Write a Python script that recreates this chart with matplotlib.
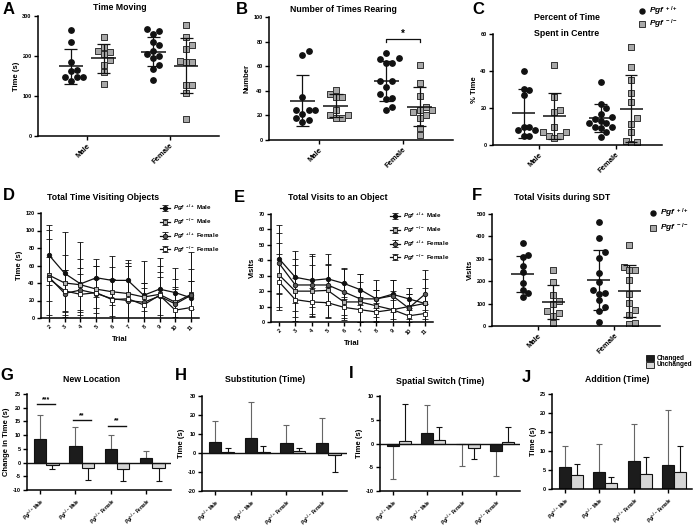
import numpy as np
import matplotlib.pyplot as plt

plt.rcParams['font.family'] = ['Liberation Sans', 'DejaVu Sans']
plt.rcParams['font.weight'] = 'bold'
plt.rcParams['axes.labelweight'] = 'bold'
plt.rcParams['mathtext.fontset'] = 'custom'
plt.rcParams['mathtext.it'] = 'Liberation Sans:italic:bold'
plt.rcParams['mathtext.rm'] = 'Liberation Sans:bold'
plt.rcParams['mathtext.bf'] = 'Liberation Sans:bold'
plt.rcParams['axes.unicode_minus'] = False

WT = r'$Pgf^{\ +/+}$'
KO = r'$Pgf^{\ -/-}$'

# ---- A: time moving (s)
a_wt_m = [266, 234, 185, 164, 162, 147, 147, 147, 137]
a_ko_m = [247, 222, 212, 210, 205, 190, 177, 160, 130]
a_wt_f = [267, 262, 255, 235, 228, 212, 205, 200, 195, 178, 168, 140]
a_ko_f = [278, 248, 228, 217, 188, 185, 185, 128, 127, 107, 42]
a_mean = [174, 194, 211, 176]
a_sd = [43, 36, 37, 69]

# ---- B: number of times rearing
b_wt_m = [72, 69, 35, 24, 24, 24, 21, 18, 16, 15]
b_ko_m = [41, 37, 35, 35, 24, 20, 20, 18, 18]
b_wt_f = [71, 67, 66, 63, 63, 48, 48, 43, 37, 34, 33, 27, 24]
b_ko_f = [61, 46, 36, 27, 24, 24, 23, 20, 18, 10, 4]
b_mean = [32, 28, 48, 27]
b_sd = [21, 9, 16, 16]

# ---- C: percent of time in centre
c_wt_m = [40, 30.5, 29.5, 27, 10, 10, 8, 8, 5, 5]
c_ko_m = [43, 26, 19, 18, 10, 7, 7, 5, 5, 4]
c_wt_f = [34, 22, 20, 17, 15, 14, 13, 12, 12, 10, 10, 9, 7, 4.5]
c_ko_f = [53, 42, 35, 28, 23, 14.5, 11.5, 7, 2, 1.5, 0.5]
c_mean = [17.2, 15.6, 14.5, 19.6]
c_sd = [13.3, 12.4, 7.5, 18]

# ---- D / E: trials
trials = [2, 3, 4, 5, 6, 7, 8, 9, 10, 11]
d_wt_m = [72, 51, 39, 46, 43, 43, 26, 33, 29, 23]
d_ko_m = [49, 40, 38, 33, 30, 28, 24, 27, 18, 27]
d_wt_f = [47, 28, 32, 28, 22, 20, 18, 25, 16, 26]
d_ko_f = [45, 31, 27, 29, 21, 22, 15, 26, 9, 12]
d_wt_m_sd = [34, 47, 48, 22, 28, 23, 39, 36, 28, 53]
d_ko_m_sd = [52, 32, 29, 27, 28, 35, 16, 33, 27, 29]
d_wt_f_sd = [43, 27, 25, 17, 23, 40, 22, 22, 20, 16]
d_ko_f_sd = [25, 24, 23, 31, 24, 38, 19, 27, 24, 30]

e_wt_m = [41, 29, 27, 28, 25, 21, 15, 18, 15, 12]
e_ko_m = [30.5, 20, 20, 20.5, 13, 13, 10.5, 8, 10, 12]
e_wt_f = [38, 24, 24, 24, 19.5, 15, 15, 17, 9, 18]
e_ko_f = [26, 14.5, 13, 12.5, 9.5, 8, 6.5, 8, 4, 5.5]
e_wt_m_sd = [22, 17, 17, 16, 10, 10, 12, 9.5, 7, 22]
e_ko_m_sd = [21, 17, 17, 17, 12, 13, 10.5, 12, 8, 10]
e_wt_f_sd = [20, 17, 19, 13, 15, 16, 6, 10.5, 9, 10]
e_ko_f_sd = [18, 14, 9, 10, 7, 8, 6, 6, 5, 6]

# ---- F: total visits during SDT
f_wt_m = [370, 315, 310, 268, 240, 190, 160, 148, 128]
f_ko_m = [248, 197, 140, 110, 97, 65, 60, 45, 13]
f_wt_f = [465, 393, 330, 305, 237, 195, 160, 148, 143, 115, 85, 65, 20]
f_ko_f = [362, 262, 252, 248, 207, 142, 102, 73, 50, 15, 10]
f_mean = [232, 107, 205, 157]
f_sd = [80, 75, 135, 116]

# ---- G-J: changed / unchanged
bar_groups = [r'$Pgf^{+/+}$ Male', r'$Pgf^{-/-}$ Male',
              r'$Pgf^{+/+}$ Female', r'$Pgf^{-/-}$ Female']
g_chg = [8.5, 6.0, 5.0, 1.8]
g_chg_sd = [8.8, 7.1, 5.2, 2.6]
g_unc = [-0.8, -2.0, -2.2, -1.8]
g_unc_sd = [1.7, 4.5, 4.6, 5.0]
h_chg = [6.0, 8.0, 5.5, 5.5]
h_chg_sd = [10.7, 19.0, 9.3, 12.8]
h_unc = [0.3, 0.5, 1.0, -1.0]
h_unc_sd = [2.5, 3.3, 1.8, 9.0]
i_chg = [-0.5, 2.3, -0.1, -1.6]
i_chg_sd = [7.0, 5.8, 4.6, 5.3]
i_unc = [0.6, 0.7, -0.9, 0.3]
i_unc_sd = [7.8, 2.7, 2.4, 3.1]
j_chg = [5.9, 4.6, 7.5, 6.3]
j_chg_sd = [5.3, 7.2, 9.7, 14.5]
j_unc = [3.6, 1.6, 4.0, 4.4]
j_unc_sd = [3.0, 1.6, 4.3, 7.0]

W, H = 700, 529
fig = plt.figure(figsize=(7, 5.29), dpi=100)


def add_ax(l, t, r, b):
    ax = fig.add_axes([l / W, 1 - b / H, (r - l) / W, (b - t) / H])
    for s in ['top', 'right']:
        ax.spines[s].set_visible(False)
    for s in ['left', 'bottom']:
        ax.spines[s].set_linewidth(1.1)
    ax.tick_params(direction='out', length=3, width=1, labelsize=4, pad=1.5)
    return ax


def ftext(x, y, s, **kw):
    fig.text(x / W, 1 - y / H, s, **kw)


def swarm(vals, center, dy, dx):
    # spread overlapping points sideways, like a dot plot
    vals = np.asarray(vals, float)
    xs = np.zeros(len(vals))
    placed = []
    for i in np.argsort(vals):
        used = [o for v, o in placed if abs(v - vals[i]) < dy]
        for cand in [0, 1, -1, 2, -2, 3, -3, 4]:
            if cand not in used:
                break
        placed.append((vals[i], cand))
        xs[i] = center + cand * dx
    return xs


def scatter_panel(ax, groups, means, sds, ymax, ystep, ylabel):
    centers = [0.8, 1.2, 1.8, 2.2]
    dy = ymax * 0.055
    for k, (vals, c) in enumerate(zip(groups, centers)):
        xs = swarm(vals, c, dy, 0.075)
        if k % 2 == 0:
            ax.scatter(xs, vals, s=15, marker='o', color='#111111', zorder=2)
        else:
            ax.scatter(xs, vals, s=17, marker='s', facecolor='#a8a8a8',
                       edgecolor='#333333', linewidth=0.7, zorder=2)
        m, sd = means[k], sds[k]
        ax.hlines(m, c - 0.15, c + 0.15, color='#111111', lw=1.1, zorder=3)
        ax.vlines(c, m - sd, m + sd, color='#111111', lw=0.9, zorder=3)
        ax.hlines([m - sd, m + sd], c - 0.08, c + 0.08, color='#111111', lw=0.9, zorder=3)
    ax.set_xlim(0.4, 2.6)
    ax.set_ylim(0, ymax)
    ax.set_yticks(np.arange(0, ymax + 1, ystep))
    ax.set_xticks([1, 2])
    ax.set_xticklabels(['Male', 'Female'], rotation=45, ha='right',
                       rotation_mode='anchor', fontsize=5.5)
    ax.set_ylabel(ylabel, fontsize=5.5, labelpad=2)


def line_panel(ax, series, sds, ymax, ystep, ylabel):
    styles = [('o', '#111111'), ('s', '#b5b5b5'), ('o', '#5a5a5a'), ('s', 'white')]
    labels = [WT + ' Male', KO + ' Male', WT + ' Female', KO + ' Female']
    handles = []
    for vals, sd, (mk, fc), lab in zip(series, sds, styles, labels):
        h = ax.errorbar(trials, vals, yerr=sd, color='#111111', lw=0.9,
                        elinewidth=0.7, capsize=2, capthick=0.7, marker=mk,
                        markersize=3.2, markerfacecolor=fc,
                        markeredgecolor='#111111', markeredgewidth=0.6, label=lab)
        handles.append(h)
    ax.set_xlim(1.5, 11.5)
    ax.set_ylim(0, ymax)
    ax.set_yticks(np.arange(0, ymax + 1, ystep))
    ax.set_xticks(trials)
    ax.set_xticklabels([str(t) for t in trials], rotation=45, ha='right',
                       rotation_mode='anchor', fontsize=4)
    ax.set_xlabel('Trial', fontsize=5.5, labelpad=3)
    ax.set_ylabel(ylabel, fontsize=5.5, labelpad=2)
    return handles


def bar_panel(ax, chg, chg_sd, unc, unc_sd, ylo, yhi, ystep, ylabel):
    x = np.arange(4)
    w = 0.35
    for xs, vals, sd, col, ecol in [(x, chg, chg_sd, '#1c1c1c', '#666666'),
                                    (x + w, unc, unc_sd, '#d6d6d6', '#111111')]:
        vals = np.asarray(vals)
        sd = np.asarray(sd)
        lower = np.where(vals < 0, sd, 0)
        upper = np.where(vals >= 0, sd, 0)
        ax.bar(xs, vals, width=w, color=col, edgecolor='#111111', linewidth=0.8, zorder=2)
        ax.errorbar(xs, vals, yerr=[lower, upper], fmt='none', ecolor=ecol,
                    elinewidth=0.8, capsize=2.5, capthick=0.8, zorder=1)
    if ylo < 0:
        ax.axhline(0, color='#111111', lw=1, zorder=3)
    ax.set_xlim(-0.37, 3.7)
    ax.set_ylim(ylo, yhi)
    ax.set_yticks(np.arange(ylo, yhi + 0.1, ystep))
    ax.set_xticks(x)
    ax.set_xticklabels(bar_groups, rotation=45, ha='right',
                       rotation_mode='anchor', fontsize=3.3)
    ax.set_ylabel(ylabel, fontsize=5.5, labelpad=2)


# ---- row 1
ax = add_ax(38, 16, 219, 136)
scatter_panel(ax, [a_wt_m, a_ko_m, a_wt_f, a_ko_f], a_mean, a_sd, 300, 100, 'Time (s)')

ax = add_ax(269, 17, 453, 140)
scatter_panel(ax, [b_wt_m, b_ko_m, b_wt_f, b_ko_f], b_mean, b_sd, 100, 20, 'Number')
ax.plot([1.8, 1.8, 2.2, 2.2], [80, 82, 82, 80], color='#111111', lw=0.9)
ax.text(2.0, 82.5, '*', ha='center', va='bottom', fontsize=7)

ax = add_ax(493, 34, 662, 145)
scatter_panel(ax, [c_wt_m, c_ko_m, c_wt_f, c_ko_f], c_mean, c_sd, 60, 20, '% Time')

# ---- row 2
ax = add_ax(41, 213, 199, 318)
hd = line_panel(ax, [d_wt_m, d_ko_m, d_wt_f, d_ko_f],
                [d_wt_m_sd, d_ko_m_sd, d_wt_f_sd, d_ko_f_sd], 120, 20, 'Time (s)')
fig.legend(handles=hd, loc='upper left', bbox_to_anchor=(157 / W, 1 - 200 / H),
           frameon=False, fontsize=4.5, handlelength=1.6, handletextpad=0.4,
           labelspacing=0.55, borderpad=0)

ax = add_ax(271, 214, 433, 322)
he = line_panel(ax, [e_wt_m, e_ko_m, e_wt_f, e_ko_f],
                [e_wt_m_sd, e_ko_m_sd, e_wt_f_sd, e_ko_f_sd], 70, 10, 'Visits')
fig.legend(handles=he, loc='upper left', bbox_to_anchor=(387 / W, 1 - 208 / H),
           frameon=False, fontsize=4.5, handlelength=1.6, handletextpad=0.4,
           labelspacing=0.55, borderpad=0)

ax = add_ax(492, 214, 660, 326)
scatter_panel(ax, [f_wt_m, f_ko_m, f_wt_f, f_ko_f], f_mean, f_sd, 500, 100, 'Visits')

# genotype legends for C and F
for y0, y1 in [(11, 24), (213, 228)]:
    xm = 642 if y0 == 11 else 653
    fig.lines.append(plt.Line2D([xm / W], [1 - y0 / H], marker='o', markersize=3.6,
                                color='#111111', transform=fig.transFigure))
    fig.lines.append(plt.Line2D([xm / W], [1 - y1 / H], marker='s', markersize=4,
                                markerfacecolor='#a8a8a8', markeredgecolor='#333333',
                                markeredgewidth=0.7, transform=fig.transFigure))
    ftext(xm + 7, y0, WT, fontsize=6, va='center')
    ftext(xm + 7, y1, KO, fontsize=6, va='center')

# ---- row 3
ax = add_ax(27, 394, 171, 490)
bar_panel(ax, g_chg, g_chg_sd, g_unc, g_unc_sd, -10, 25, 5, 'Change in Time (s)')
for xc, y, s in [(0.175, 21.5, '***'), (1.175, 15.5, '**'), (2.175, 13.5, '**')]:
    ax.plot([xc - 0.25, xc + 0.25], [y, y], color='#111111', lw=1)
    ax.text(xc, y + 0.3, s, ha='center', va='bottom', fontsize=5)

ax = add_ax(202, 396, 347, 491)
bar_panel(ax, h_chg, h_chg_sd, h_unc, h_unc_sd, -20, 30, 10, 'Time (s)')

ax = add_ax(380, 396, 520, 491)
bar_panel(ax, i_chg, i_chg_sd, i_unc, i_unc_sd, -10, 10, 5, 'Time (s)')

ax = add_ax(552, 394, 692, 489)
bar_panel(ax, j_chg, j_chg_sd, j_unc, j_unc_sd, 0, 25, 5, 'Time (s)')

# changed / unchanged legend
for yy, col, lab in [(358, '#1c1c1c', 'Changed'), (365, '#d6d6d6', 'Unchanged')]:
    fig.patches.append(plt.Rectangle((646 / W, 1 - (yy + 2.7) / H), 8 / W, 5.4 / H,
                                     facecolor=col, edgecolor='#111111', lw=0.6,
                                     transform=fig.transFigure))
    ftext(657, yy, lab, fontsize=4.7, va='center')

# titles
for x, y, s in [(120, 8, 'Time Moving'), (343, 10, 'Number of Times Rearing'),
                (567, 18, 'Percent of Time'), (567, 33, 'Spent in Centre'),
                (103, 197, 'Total Time Visiting Objects'),
                (338, 198, 'Total Visits to an Object'),
                (562, 198, 'Total Visits during SDT'),
                (92, 380, 'New Location'), (265, 380, 'Substitution (Time)'),
                (440, 382, 'Spatial Switch (Time)'), (617, 380, 'Addition (Time)')]:
    ftext(x, y, s, fontsize=6.3, ha='center', va='center')

# panel letters
for x, y, s in [(3, 10, 'A'), (236, 10, 'B'), (472, 10, 'C'),
                (3, 196, 'D'), (234, 197, 'E'), (472, 196, 'F'),
                (0, 375, 'G'), (175, 376, 'H'), (349, 374, 'I'), (522, 377, 'J')]:
    ftext(x, y, s, fontsize=12, va='center', ha='left')

fig.savefig('out.png', dpi=100)
